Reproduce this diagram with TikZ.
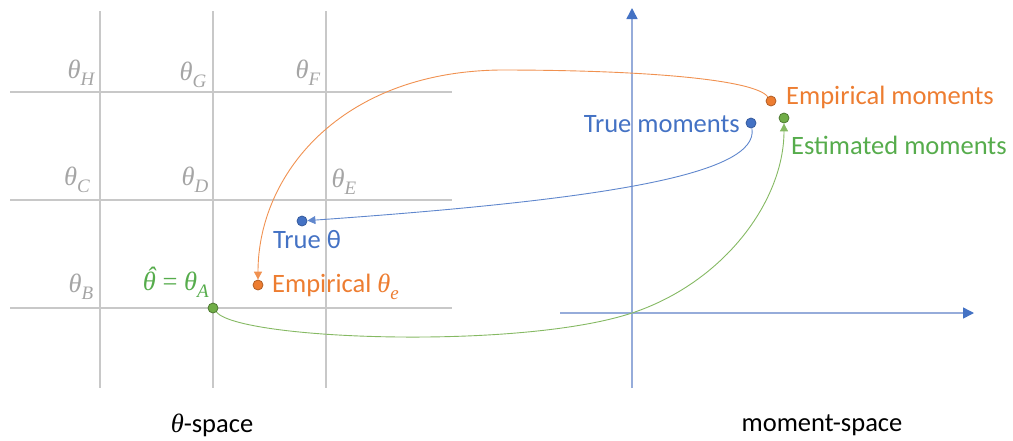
\documentclass[tikz,border=0pt]{standalone}
\usepackage{fontspec}
\setmainfont{Carlito}
\newfontfamily\mthf{Liberation Serif}
\usetikzlibrary{arrows.meta}
\definecolor{gridc}{RGB}{200,200,200}
\definecolor{glab}{RGB}{165,165,165}
\definecolor{oblue}{RGB}{68,114,196}
\definecolor{axc}{RGB}{150,172,218}
\definecolor{oorange}{RGB}{237,125,49}
\definecolor{ogreen}{RGB}{112,173,71}
\definecolor{tgreen}{RGB}{86,172,76}
\newcommand{\mth}{{\mthf\itshape θ}}
\newcommand{\msub}[1]{\raisebox{-0.28em}{\mthf\itshape\fontsize{19}{20}\selectfont #1}}
\newcommand{\thl}[1]{\mth\msub{#1}}
\newcommand{\thhat}{{\mthf\itshape\ooalign{θ\cr\hidewidth\kern0.12em\raisebox{0.2em}{ˆ}\hidewidth\cr}}}
\begin{document}
\begin{tikzpicture}[x=1pt,y=-1pt,
  every node/.style={font=\fontsize{26.5}{30}\selectfont, inner sep=0pt},
  gridline/.style={gridc, line width=1.2pt},
  glabel/.style={glab},
  axis/.style={axc, line width=1.5pt, -{Triangle[length=11pt,width=11pt,color=oblue]}},
  dot/.style={circle, minimum size=10pt, line width=0.8pt},
  bdot/.style={dot, fill=oblue, draw=oblue!80!black},
  odot/.style={dot, fill=oorange, draw=oorange!75!black},
  gdot/.style={dot, fill=ogreen, draw=ogreen!70!black},
  conn/.style={line width=0.9pt},
]
\useasboundingbox (0,0) rectangle (1013,440);
% grid
\foreach \x in {100,213,326} \draw[gridline] (\x,11) -- (\x,388);
\foreach \y in {92,200,308} \draw[gridline] (10,\y) -- (452,\y);
% grid labels
\node[glabel] (lH) at (81,73) {\thl{H}};
\node[glabel] (lG) at (193,75) {\thl{G}};
\node[glabel] (lF) at (308,73) {\thl{F}};
\node[glabel] (lC) at (77,180) {\thl{C}};
\node[glabel] (lD) at (195,180) {\thl{D}};
\node[glabel] (lE) at (344,182) {\thl{E}};
\node[glabel] (lB) at (81,287) {\thl{B}};
% axes
\coordinate (vb) at (632,388);
\coordinate (vt) at (632,8);
\coordinate (hl) at (560,313);
\coordinate (hr) at (974,313);
\draw[axis] (vb) -- (vt);
\draw[axis] (hl) -- (hr);
% dots
\node[bdot] (tt) at (302,221) {};
\node[odot] (et) at (258,285) {};
\node[gdot] (ga) at (213,308) {};
\node[odot] (em) at (771,101) {};
\node[bdot] (tm) at (751,123) {};
\node[gdot] (es) at (784,118) {};
% labels
\node[oblue] (ttl) at (307,240) {True θ};
\node[oorange, anchor=west] (etl) at (272,287) {Empirical \thl{e}};
\node[tgreen, anchor=east] (gal) at (209,285) {\thhat\hspace{0.25em}{\mthf =}\hspace{0.25em}\thl{A}};
\node[oorange, anchor=west] (eml) at (786,97) {Empirical moments};
\node[oblue, anchor=east] (tml) at (740,124) {True moments};
\node[tgreen, anchor=west] (esl) at (791,145) {Estimated moments};
% connectors
\draw[conn, oorange!85!white, -{Triangle[length=8pt,width=8pt]}]
  (em) .. controls (755,80) and (650,70) .. (500,70)
  .. controls (340,72) and (258,175) .. (et);
\draw[conn, oblue!85!white, -{Triangle[length=8pt,width=8pt]}]
  (tm) .. controls (760,175) and (600,200) .. (tt);
\draw[conn, ogreen!85!white, -{Triangle[length=8pt,width=8pt]}]
  (ga) .. controls (240,340) and (520,350) .. (632,313)
  .. controls (725,282) and (784,200) .. (es);
% bottom titles
\node[black] (ts) at (212,425) {\mth-space};
\node[black] (ms) at (822,425) {moment-space};
\end{tikzpicture}
\end{document}
